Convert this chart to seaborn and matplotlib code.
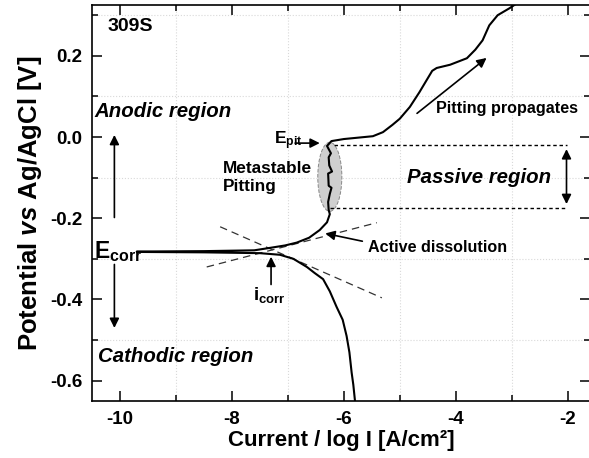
import numpy as np
import pandas as pd
import matplotlib
matplotlib.use("Agg")
import matplotlib.pyplot as plt
from matplotlib.patches import Ellipse
import seaborn as sns

# ---- data ----
cath_logi = [-5.80, -5.83, -5.86, -5.90, -5.95, -6.02, -6.13, -6.25, -6.37, -6.52,
             -6.66, -6.90, -7.14, -7.50, -8.50, -9.70]
cath_E = [-0.65, -0.61, -0.58, -0.53, -0.49, -0.45, -0.418, -0.38, -0.35, -0.335,
          -0.32, -0.30, -0.29, -0.286, -0.284, -0.283]
anod_logi = [-9.70, -8.50, -7.60, -7.32, -7.05, -6.84, -6.62, -6.43, -6.30, -6.25,
             -6.27, -6.28, -6.25, -6.22, -6.27, -6.28, -6.21, -6.26, -6.27, -6.23, -6.30,
             -6.22, -6.00, -5.48, -5.30, -5.13, -5.00, -4.82, -4.65, -4.52, -4.42,
             -4.34, -4.10, -3.80, -3.65, -3.52, -3.40, -3.25, -3.04, -2.90]
anod_E = [-0.282, -0.281, -0.279, -0.273, -0.267, -0.260, -0.248, -0.229, -0.210, -0.190,
          -0.180, -0.160, -0.140, -0.125, -0.120, -0.090, -0.085, -0.070, -0.050, -0.040, -0.022,
          -0.010, -0.005, 0.002, 0.012, 0.030, 0.045, 0.074, 0.110, 0.140, 0.163,
          0.170, 0.178, 0.194, 0.215, 0.238, 0.275, 0.300, 0.317, 0.330]
tangent1_x = [-8.21, -5.32]
tangent1_y = [-0.221, -0.396]
tangent2_x = [-8.45, -5.41]
tangent2_y = [-0.320, -0.211]
E_pit = -0.020
E_pass_low = -0.175
x_ticks = [-10, -8, -6, -4, -2]
y_ticks = [-0.6, -0.4, -0.2, 0.0, 0.2]

logi = cath_logi + anod_logi
E = cath_E + anod_E
df = pd.DataFrame({"logi": logi, "E": E, "order": np.arange(len(logi))})

sns.set_theme(style="ticks")
plt.rcParams["font.family"] = ["Liberation Sans", "DejaVu Sans"]
plt.rcParams["font.weight"] = "bold"
plt.rcParams["text.color"] = "black"
plt.rcParams["axes.labelcolor"] = "black"
plt.rcParams["xtick.color"] = "black"
plt.rcParams["ytick.color"] = "black"
plt.rcParams["mathtext.fontset"] = "custom"
plt.rcParams["mathtext.rm"] = "Liberation Sans:bold"
plt.rcParams["mathtext.it"] = "Liberation Sans:bold:italic"
plt.rcParams["mathtext.bf"] = "Liberation Sans:bold"
plt.rcParams["mathtext.default"] = "rm"

fig = plt.figure(figsize=(5.89, 4.58), dpi=100)
ax = fig.add_axes([0.1562, 0.1245, 1.0017 - 0.1562, 0.989 - 0.1245])

sns.lineplot(data=df, x="logi", y="E", sort=False, estimator=None, color="black",
             lw=1.5, ax=ax, zorder=4)

ax.set_xlim(-10.5, -1.6)
ax.set_ylim(-0.65, 0.325)
ax.set_xticks(x_ticks)
ax.set_xticklabels([f"{v:g}" for v in x_ticks])
ax.set_yticks(y_ticks)
ax.set_yticklabels([f"{v:.1f}" for v in y_ticks])
ax.set_xticks(np.arange(-10, -1.5, 1), minor=True)
ax.set_yticks(np.arange(-0.6, 0.35, 0.1), minor=True)
ax.tick_params(which="both", direction="in", top=True, right=True, width=1.1, color="black")
ax.tick_params(which="major", length=7, labelsize=13.5, pad=7)
ax.tick_params(which="minor", length=4)
for lab in ax.get_xticklabels() + ax.get_yticklabels():
    lab.set_fontweight("bold")
ax.grid(which="minor", color="#d9d9d9", linestyle=":", lw=0.8)
for s in ax.spines.values():
    s.set_linewidth(1.2)
    s.set_color("black")

ax.set_xlabel("Current / log I [A/cm²]", fontsize=16, fontweight="bold", labelpad=2)
ax.set_ylabel(r"Potential $\it{vs}$ Ag/AgCl [V]", fontsize=18.5, fontweight="bold", labelpad=4)

# tangent lines
ax.plot(tangent1_x, tangent1_y, ls=(0, (6, 4)), color="#333333", lw=0.9, zorder=3)
ax.plot(tangent2_x, tangent2_y, ls=(0, (6, 4)), color="#333333", lw=0.9, zorder=3)

# metastable ellipse
ax.add_patch(Ellipse((-6.25, -0.098), 0.43, 0.17, facecolor="#cfcfcf", edgecolor="#888888",
                     ls="--", lw=0.7, zorder=2))

# passive region dotted lines and arrow
ax.plot([-6.18, -2.02], [E_pit, E_pit], ls=(0, (2.5, 2)), color="black", lw=1.0, zorder=3)
ax.plot([-6.25, -2.02], [E_pass_low, E_pass_low], ls=(0, (2.5, 2)), color="black", lw=1.0, zorder=3)
ax.annotate("", xy=(-2.02, E_pit - 0.003), xytext=(-2.02, E_pass_low + 0.003),
            arrowprops=dict(arrowstyle="<|-|>", color="black", lw=1.2, mutation_scale=14))

arrow = dict(arrowstyle="-|>", color="black", lw=1.2, mutation_scale=14)
# anodic / cathodic arrows
ax.annotate("", xy=(-10.1, 0.012), xytext=(-10.1, -0.205), arrowprops=arrow)
ax.annotate("", xy=(-10.1, -0.477), xytext=(-10.1, -0.307), arrowprops=arrow)
ax.text(-10.45, 0.064, "Anodic region", fontsize=14.7, fontweight="bold", style="italic",
        va="center", ha="left")
ax.text(-10.39, -0.54, "Cathodic region", fontsize=14.7, fontweight="bold", style="italic",
        va="center", ha="left")
ax.text(-10.47, -0.283, r"E$_{\rm corr}$", fontsize=16.5, va="center", ha="left")
ax.text(-10.23, 0.272, "309S", fontsize=14, fontweight="bold", va="center", ha="left")

# E_pit
ax.text(-7.25, -0.010, r"E$_{\rm pit}$", fontsize=12.5, va="center", ha="left")
ax.annotate("", xy=(-6.38, -0.015), xytext=(-6.92, -0.015), arrowprops=arrow)
ax.text(-8.17, -0.1, "Metastable\nPitting", fontsize=12.4, fontweight="bold", va="center",
        ha="left", linespacing=1.2)
ax.text(-4.87, -0.1, "Passive region", fontsize=14.7, fontweight="bold", style="italic",
        va="center", ha="left")
ax.text(-5.57, -0.273, "Active dissolution", fontsize=11.6, fontweight="bold",
        va="center", ha="left")
ax.annotate("", xy=(-6.38, -0.236), xytext=(-5.62, -0.258), arrowprops=arrow)
ax.text(-7.62, -0.39, r"i$_{\rm corr}$", fontsize=13.5, va="center", ha="left")
ax.annotate("", xy=(-7.3, -0.288), xytext=(-7.3, -0.37), arrowprops=arrow)
ax.text(-4.35, 0.07, "Pitting propagates", fontsize=11.6, fontweight="bold",
        va="center", ha="left")
ax.annotate("", xy=(-3.41, 0.199), xytext=(-4.73, 0.054), arrowprops=arrow)

fig.savefig("out.png", dpi=100)
